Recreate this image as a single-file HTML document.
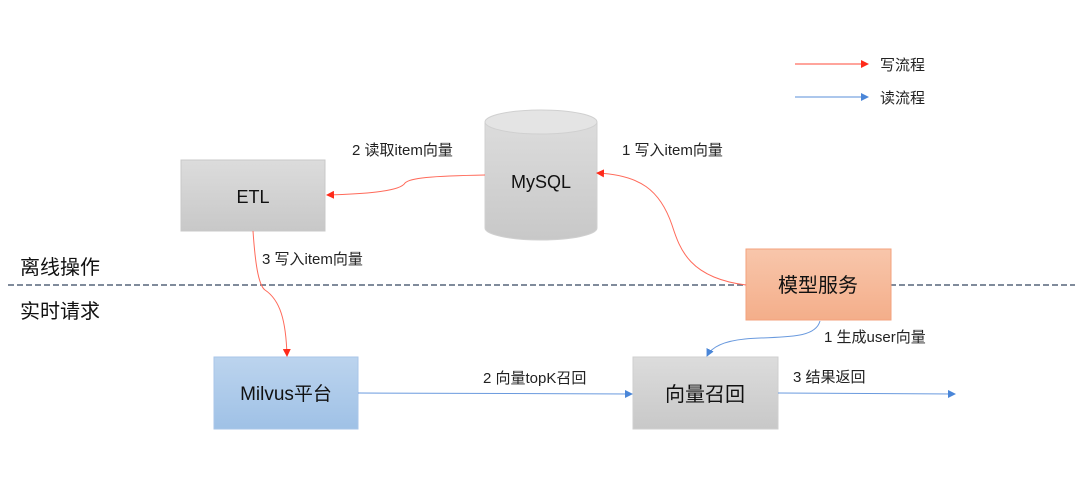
<!DOCTYPE html>
<html><head><meta charset="utf-8"><style>
html,body{margin:0;padding:0;background:#fff;}
svg{display:block;font-family:"Liberation Sans","Noto Sans CJK SC",sans-serif;}
</style></head><body>
<svg width="1080" height="480" viewBox="0 0 1080 480" xmlns="http://www.w3.org/2000/svg">
<defs>
<linearGradient id="g" x1="0" y1="0" x2="0" y2="1"><stop offset="0" stop-color="#dcdcdc"/><stop offset="1" stop-color="#c8c8c8"/></linearGradient>
<linearGradient id="o" x1="0" y1="0" x2="0" y2="1"><stop offset="0" stop-color="#f8c6ab"/><stop offset="1" stop-color="#f4ae8a"/></linearGradient>
<linearGradient id="b" x1="0" y1="0" x2="0" y2="1"><stop offset="0" stop-color="#bcd4ee"/><stop offset="1" stop-color="#9fc1e6"/></linearGradient>
<marker id="ar" markerWidth="8" markerHeight="8" refX="7" refY="4" orient="auto" markerUnits="userSpaceOnUse"><path d="M0,0 L8,4 L0,8 z" fill="#ff2a1a"/></marker>
<marker id="ab" markerWidth="8" markerHeight="8" refX="7" refY="4" orient="auto" markerUnits="userSpaceOnUse"><path d="M0,0 L8,4 L0,8 z" fill="#4a86d8"/></marker>
</defs>
<!-- legend -->
<line x1="795" y1="64" x2="868" y2="64" stroke="#ff4a3a" stroke-width="1" marker-end="url(#ar)"/>
<text x="880" y="70" font-size="15" fill="#222">写流程</text>
<line x1="795" y1="97" x2="868" y2="97" stroke="#5a8fd8" stroke-width="1" marker-end="url(#ab)"/>
<text x="880" y="103" font-size="15" fill="#222">读流程</text>
<!-- dashed line -->
<line x1="8" y1="285" x2="1075" y2="285" stroke="#56657a" stroke-width="1.5" stroke-dasharray="6,3"/>
<text x="20" y="274" font-size="20" fill="#111">离线操作</text>
<text x="20" y="318" font-size="20" fill="#111">实时请求</text>
<!-- ETL -->
<rect x="181" y="160" width="144" height="71" fill="url(#g)" stroke="#c8c8c8"/>
<text x="253" y="203" font-size="18" text-anchor="middle" fill="#111">ETL</text>
<!-- MySQL cylinder -->
<path d="M485,122 L485,228 A56,12 0 0 0 597,228 L597,122 Z" fill="url(#g)" stroke="#d0d0d0"/>
<ellipse cx="541" cy="122" rx="56" ry="12" fill="#e4e4e4" stroke="#d0d0d0"/>
<text x="541" y="188" font-size="18" text-anchor="middle" fill="#111">MySQL</text>
<!-- 模型服务 -->
<rect x="746" y="249" width="145" height="71" fill="url(#o)" stroke="#f3a27c"/>
<text x="818" y="292" font-size="20" text-anchor="middle" fill="#111">模型服务</text>
<!-- Milvus -->
<rect x="214" y="357" width="144" height="72" fill="url(#b)" stroke="#a9c6e8"/>
<text x="286" y="400" font-size="19" text-anchor="middle" fill="#111">Milvus平台</text>
<!-- 向量召回 -->
<rect x="633" y="357" width="145" height="72" fill="url(#g)" stroke="#cfcfcf"/>
<text x="705" y="401" font-size="20" text-anchor="middle" fill="#111">向量召回</text>
<!-- connectors -->
<path d="M746,285 C690,278 680,250 672,225 C660,190 640,175 597,173" fill="none" stroke="#ff6a5a" stroke-width="1" marker-end="url(#ar)"/>
<path d="M485,175 C430,176 410,178 405,183 C400,192 360,194 327,195" fill="none" stroke="#ff6a5a" stroke-width="1" marker-end="url(#ar)"/>
<path d="M253,231 C255,260 258,285 265,290 C280,300 286,320 287,356" fill="none" stroke="#ff6a5a" stroke-width="1" marker-end="url(#ar)"/>
<path d="M820,321 C815,340 780,336 745,339 C725,341 712,346 707,356" fill="none" stroke="#6a9ade" stroke-width="1" marker-end="url(#ab)"/>
<line x1="358" y1="393" x2="632" y2="394" stroke="#6a9ade" stroke-width="1" marker-end="url(#ab)"/>
<line x1="778" y1="393" x2="955" y2="394" stroke="#6a9ade" stroke-width="1" marker-end="url(#ab)"/>
<!-- labels -->
<text x="352" y="155" font-size="15" fill="#222">2 读取item向量</text>
<text x="622" y="155" font-size="15" fill="#222">1 写入item向量</text>
<text x="262" y="264" font-size="15" fill="#222">3 写入item向量</text>
<text x="824" y="342" font-size="15" fill="#222">1 生成user向量</text>
<text x="483" y="383" font-size="15" fill="#222">2 向量topK召回</text>
<text x="793" y="382" font-size="15" fill="#222">3 结果返回</text>
</svg>
</body></html>
